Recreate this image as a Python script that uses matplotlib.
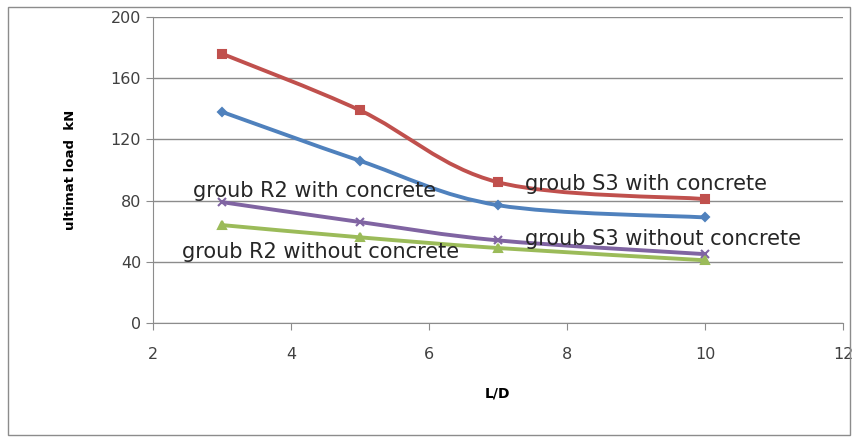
import numpy as np
import matplotlib.pyplot as plt
from matplotlib.path import Path
from matplotlib.patches import PathPatch, Rectangle

# datos
ld = [3, 5, 7, 10]
s3_with = [176, 139, 92, 81]
s3_without = [138, 106, 77, 69]
r2_with = [79, 66, 54, 45]
r2_without = [64, 56, 49, 41]

series = [
    (s3_with, '#C0504D', 's', 6),
    (s3_without, '#4F81BD', 'D', 4),
    (r2_with, '#8064A2', 'x', 6),
    (r2_without, '#9BBB59', '^', 6),
]


def smooth_path(ax, x, y, color):
    """Linea suavizada tipo Excel (Bezier con puntos de control Catmull-Rom)."""
    pts = np.column_stack([x, y]).astype(float)
    verts = [pts[0]]
    codes = [Path.MOVETO]
    n = len(pts)
    for i in range(n - 1):
        p0 = pts[i - 1] if i > 0 else pts[i]
        p1 = pts[i]
        p2 = pts[i + 1]
        p3 = pts[i + 2] if i + 2 < n else pts[i + 1]
        c1 = p1 + (p2 - p0) / 6.0
        c2 = p2 - (p3 - p1) / 6.0
        verts += [c1, c2, p2]
        codes += [Path.CURVE4] * 3
    patch = PathPatch(Path(verts, codes), facecolor='none', edgecolor=color,
                      lw=2.8, capstyle='round', joinstyle='round', zorder=3)
    ax.add_patch(patch)


fig = plt.figure(figsize=(8.56, 4.41), dpi=100)
ax = fig.add_axes([153 / 856, 1 - 323 / 441, (843 - 153) / 856, (323 - 17) / 441])

for ys, color, marker, ms in series:
    smooth_path(ax, ld, ys, color)
    ax.plot(ld, ys, linestyle='none', marker=marker, color=color, ms=ms,
            mew=1.5, zorder=4)

ax.set_xlim(2, 12)
ax.set_ylim(0, 200)
ax.set_xticks(range(2, 13, 2))
ax.set_yticks(range(0, 201, 40))
ax.grid(axis='y', color='#8c8c8c', lw=1)
ax.set_axisbelow(True)
for side in ['top', 'right']:
    ax.spines[side].set_visible(False)
for side in ['left', 'bottom']:
    ax.spines[side].set_color('#8c8c8c')
ax.tick_params(colors='#8c8c8c', labelcolor='#404040', labelsize=11.5, length=5)
ax.tick_params(axis='x', pad=12)
ax.set_xlabel('L/D', fontsize=10, fontweight='bold', labelpad=18)
ax.set_ylabel('ultimat load  kN', fontsize=9.5, fontweight='bold', labelpad=24)

txt = dict(fontsize=15, color='#262626', va='baseline', zorder=5)
ax.text(2.58, 82.4, 'groub R2 with concrete', **txt)
ax.text(7.39, 86.9, 'groub S3 with concrete', **txt)
ax.text(2.42, 42.5, 'groub R2 without concrete', **txt)
ax.text(7.39, 51.0, 'groub S3 without concrete', **txt)

# marco exterior del grafico
fig.patches.append(Rectangle((8 / 856, 6 / 441), 842 / 856, 428 / 441,
                             transform=fig.transFigure, fill=False,
                             edgecolor='#8c8c8c', lw=1))

fig.savefig('out.png', dpi=100)
